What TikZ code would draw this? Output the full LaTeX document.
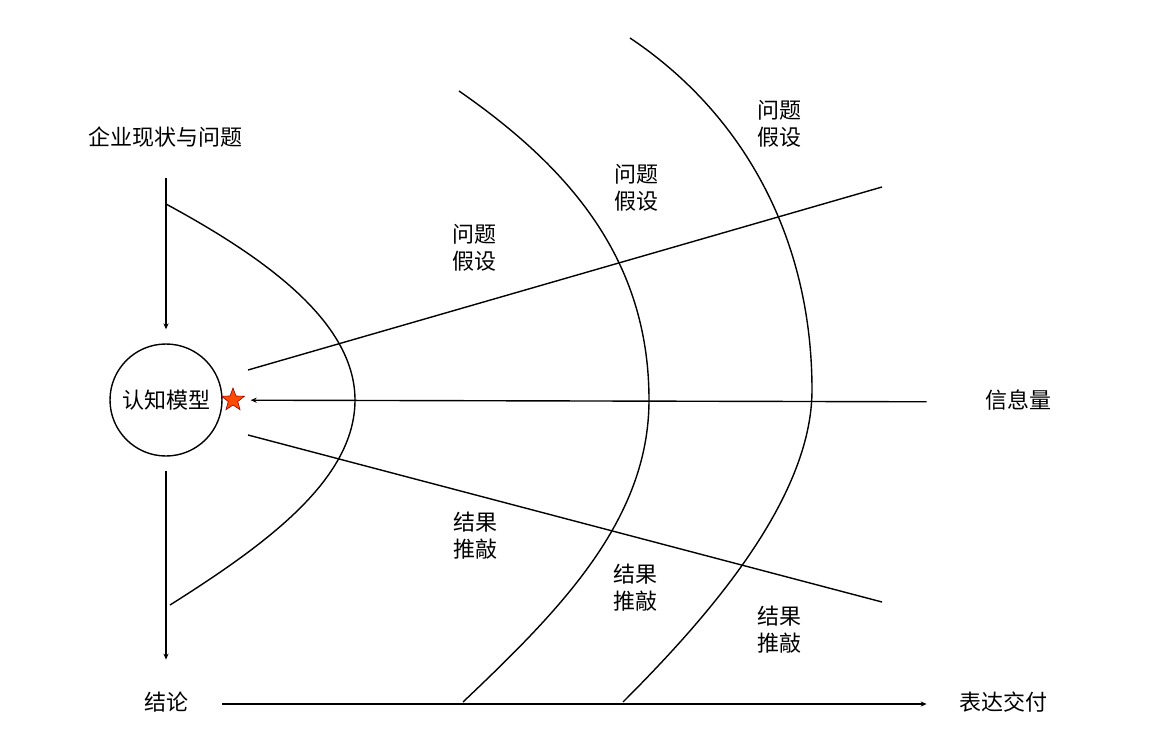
\documentclass[tikz,border=0pt]{standalone}
\usepackage{fontspec}
\newfontfamily\cjk{Noto Sans CJK SC}
\usetikzlibrary{arrows.meta,shapes.geometric}
\tikzset{
  txt/.style={font=\cjk\fontsize{11}{13.5}\selectfont,inner sep=0pt,text height=8.5pt,text depth=2.5pt},
  lab/.style={font=\cjk\fontsize{11}{13.5}\selectfont,inner sep=0pt,align=center},
  ln/.style={line width=0.7pt},
  arr/.style={ln,-{Stealth[length=3pt,width=2.6pt]}}
}
\begin{document}
\begin{tikzpicture}[x=0.5pt,y=-0.5pt]
\useasboundingbox (0,0) rectangle (1164,755);
\node[txt](status) at(166,139){企业现状与问题};
\node[circle,draw,ln,minimum size=56pt,inner sep=0pt,font=\cjk\fontsize{11}{13.5}\selectfont](model) at(166,400){认知模型};
\node[star,star points=5,star point ratio=2.4,fill=orange!60!red,draw=red!60!black,line width=0.3pt,minimum size=12pt,inner sep=0pt](mark) at(233,400){};
\node[txt](info) at(1018,402){信息量};
\node[txt](concl) at(166,704){结论};
\node[txt](deliver) at(1003,704){表达交付};
\draw[arr,shorten <=14pt,shorten >=7pt](status)--(model);
\draw[arr,shorten <=7pt,shorten >=16.5pt](model)--(concl);
\draw[arr,shorten <=29pt,shorten >=14pt](info)--(model);
\draw[arr,shorten <=17pt,shorten >=16pt](concl)--(deliver);
% rays
\coordinate (u0) at(248,370); \coordinate (u1) at(882,187);
\coordinate (d0) at(248,435); \coordinate (d1) at(882,602);
\draw[ln](u0)--(u1) (d0)--(d1);
% curves
\draw[ln](166,204) .. controls (260,255) and (355,320) .. (355,400)
  .. controls (355,480) and (265,545) .. (170,605);
\draw[ln](459,91) .. controls (570,168) and (649,260) .. (649,400)
  .. controls (649,520) and (560,610) .. (463,702);
\draw[ln](630,38) .. controls (745,115) and (812,240) .. (812,390)
  .. controls (812,500) and (705,620) .. (623,702);
\foreach \x/\y in {474/248,636/188,779/124}
  \node[lab] at(\x,\y){问题\\假设};
\foreach \x/\y in {475/536,635/588,779/630}
  \node[lab] at(\x,\y){结果\\推敲};
\end{tikzpicture}
\end{document}
